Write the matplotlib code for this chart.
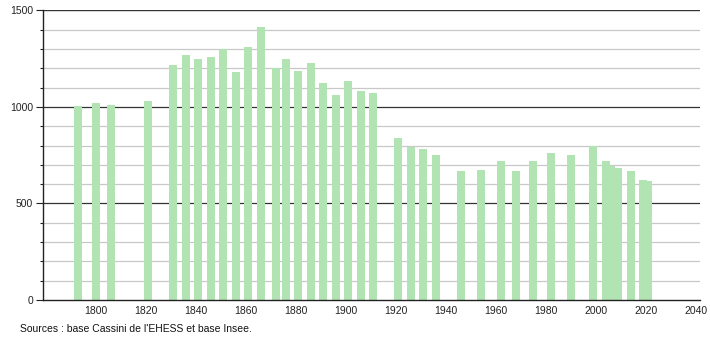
import numpy as np
import matplotlib
matplotlib.use('Agg')
import matplotlib.pyplot as plt
from matplotlib.ticker import MultipleLocator

# census years and population
years = [1793, 1800, 1806, 1821, 1831, 1836, 1841, 1846, 1851, 1856,
         1861, 1866, 1872, 1876, 1881, 1886, 1891, 1896, 1901, 1906,
         1911, 1921, 1926, 1931, 1936, 1946, 1954, 1962, 1968, 1975,
         1982, 1990, 1999, 2004, 2006, 2009, 2014, 2019, 2021]
population = [1005, 1019, 1010, 1031, 1217, 1269, 1246, 1257, 1298, 1182,
              1310, 1412, 1200, 1246, 1186, 1227, 1122, 1060, 1134, 1082,
              1072, 840, 794, 782, 751, 666, 673, 720, 666, 720,
              761, 749, 797, 718, 695, 683, 666, 621, 616]
xticks = [1800, 1820, 1840, 1860, 1880, 1900, 1920, 1940, 1960, 1980, 2000, 2020, 2040]
yticks = [0, 500, 1000, 1500]
source = "Sources : base Cassini de l'EHESS et base Insee."

plt.rcParams['font.family'] = ['Liberation Sans', 'DejaVu Sans']

fig = plt.figure(figsize=(7.1, 3.4), dpi=100)
ax = fig.add_axes([0.0606, 0.1176, 0.926, 0.852])

# grid lines behind the bars
for v in range(100, 1500, 100):
    if v % 500 == 0:
        ax.axhline(v, color='#333333', lw=0.9, zorder=1)
    else:
        ax.axhline(v, color='#c8c8c8', lw=0.9, zorder=1)
ax.axhline(1500, color='#333333', lw=1.0, zorder=1)

ax.bar(years, population, width=3.2, color='#b2e3b2', zorder=2)

ax.set_xlim(1779, 2041.8)
ax.set_ylim(0, 1500)
ax.set_xticks(xticks)
ax.set_yticks(yticks)
ax.yaxis.set_minor_locator(MultipleLocator(100))
ax.tick_params(axis='x', length=0, labelsize=7.5, pad=4, colors='#222222')
ax.tick_params(axis='y', which='major', length=5, width=0.8, labelsize=7.5, pad=2, colors='#222222')
ax.tick_params(axis='y', which='minor', length=2.5, width=0.8, colors='#222222')

for s in ['top', 'right']:
    ax.spines[s].set_visible(False)
for s in ['left', 'bottom']:
    ax.spines[s].set_color('#222222')
    ax.spines[s].set_linewidth(1.0)

fig.text(20 / 710, 1 - 329 / 340, source, fontsize=7.5, va='center', ha='left', color='#111111')

fig.savefig('out.png', dpi=100)
